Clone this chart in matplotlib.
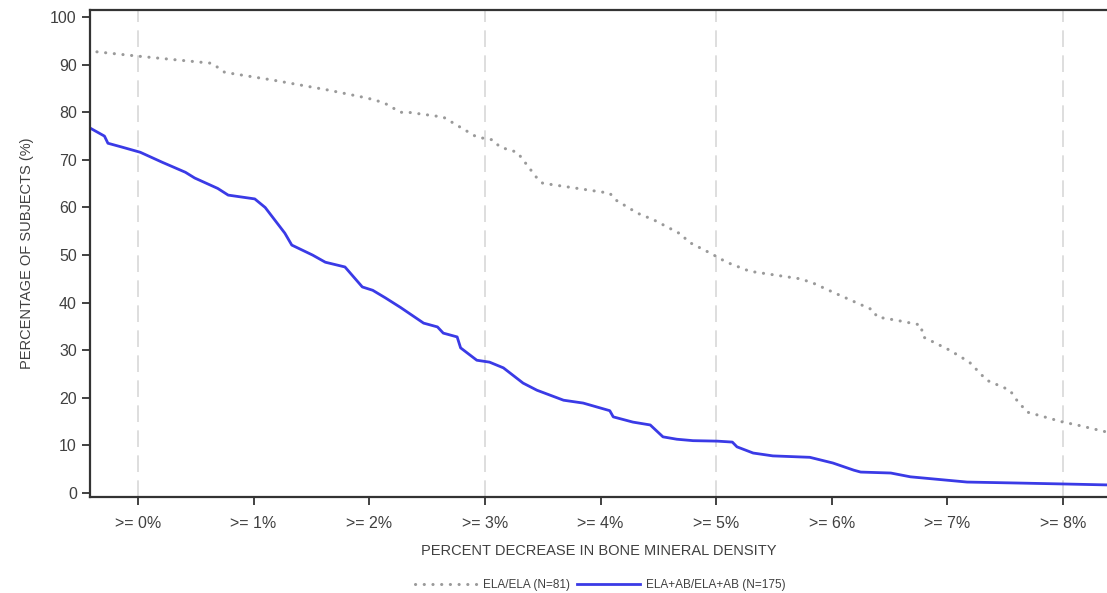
import matplotlib
matplotlib.use("Agg")
import matplotlib.pyplot as plt

# ELA+AB/ELA+AB (N=175) curve
blue_x = [-0.415, -0.29, -0.26, -0.14, 0.02, 0.21, 0.41, 0.49, 0.69, 0.78, 1.01, 1.10,
          1.27, 1.33, 1.51, 1.62, 1.79, 1.94, 2.03, 2.14, 2.27, 2.47, 2.59, 2.64, 2.76,
          2.79, 2.93, 3.04, 3.16, 3.33, 3.45, 3.68, 3.85, 4.08, 4.11, 4.28, 4.43, 4.54,
          4.66, 4.80, 5.01, 5.14, 5.18, 5.32, 5.49, 5.81, 6.01, 6.19, 6.25, 6.51, 6.68,
          7.17, 7.60, 8.00, 8.38]
blue_y = [76.7, 75.0, 73.5, 72.7, 71.6, 69.5, 67.4, 66.2, 64.0, 62.6, 61.8, 60.0,
          54.6, 52.1, 50.0, 48.5, 47.5, 43.3, 42.6, 41.0, 39.0, 35.7, 34.9, 33.6, 32.8,
          30.5, 27.9, 27.5, 26.3, 23.1, 21.6, 19.5, 18.9, 17.3, 16.0, 14.9, 14.3, 11.8,
          11.3, 11.0, 10.9, 10.7, 9.7, 8.4, 7.8, 7.5, 6.3, 4.8, 4.4, 4.2, 3.4,
          2.3, 2.1, 1.9, 1.7]

# ELA/ELA (N=81) curve
gray_x = [-0.43, 0.00, 0.64, 0.75, 1.16, 1.64, 1.94, 2.05, 2.15, 2.27, 2.34, 2.64, 2.93,
          3.07, 3.13, 3.28, 3.45, 3.50, 4.08, 4.13, 4.32, 4.46, 4.71, 4.75, 4.95, 5.09,
          5.29, 5.73, 5.84, 6.01, 6.36, 6.39, 6.56, 6.77, 6.79, 7.02, 7.19, 7.34, 7.54,
          7.60, 7.69, 8.00, 8.12, 8.38]
gray_y = [92.9, 91.8, 90.3, 88.4, 86.8, 84.7, 83.2, 82.6, 81.7, 80.0, 80.0, 79.0, 74.8,
          74.2, 72.7, 71.6, 66.2, 65.1, 63.0, 61.6, 58.8, 57.4, 54.2, 52.9, 50.4, 48.5,
          46.6, 45.0, 44.1, 42.2, 38.4, 37.0, 36.3, 35.3, 32.8, 30.0, 27.5, 23.7, 21.6,
          19.5, 17.0, 14.9, 14.3, 12.8]

x_ticks = [0, 1, 2, 3, 4, 5, 6, 7, 8]
x_tick_labels = [">= 0%", ">= 1%", ">= 2%", ">= 3%", ">= 4%", ">= 5%", ">= 6%", ">= 7%", ">= 8%"]
grid_x = [0, 3, 5, 8]
y_ticks = list(range(0, 101, 10))

plt.rcParams['font.family'] = ['Liberation Sans', 'DejaVu Sans']

fig = plt.figure(figsize=(11.07, 5.93), dpi=100)
ax = fig.add_axes([90/1107, 1-497/593, 1-90/1107, 487/593])

for gx in grid_x:
    ax.axvline(gx, color='#d8d8d8', lw=1.2, dashes=(10, 5), zorder=0)

l1, = ax.plot(gray_x, gray_y, color='#9a9a9a', lw=2.2, linestyle=(0, (0.05, 2.8)),
              dash_capstyle='round', label='ELA/ELA (N=81)')
l2, = ax.plot(blue_x, blue_y, color='#3a3ae6', lw=2.0, label='ELA+AB/ELA+AB (N=175)')

ax.set_xlim(-0.415, 8.38)
ax.set_ylim(-0.84, 101.5)
ax.set_xticks(x_ticks)
ax.set_xticklabels(x_tick_labels)
ax.set_yticks(y_ticks)
ax.tick_params(axis='both', direction='out', length=6, width=1.3, color='#333333',
               labelsize=11.5, labelcolor='#404040')
ax.tick_params(axis='x', pad=8)
for s in ['left', 'bottom', 'top']:
    ax.spines[s].set_linewidth(1.6)
    ax.spines[s].set_color('#333333')
ax.spines['right'].set_visible(False)

ax.set_xlabel('PERCENT DECREASE IN BONE MINERAL DENSITY', fontsize=10.5, color='#404040', labelpad=9)
ax.set_ylabel('PERCENTAGE OF SUBJECTS (%)', fontsize=10.5, color='#404040', labelpad=12)

leg = fig.legend(handles=[l1, l2], loc='center', bbox_to_anchor=(600/1107, 1-585/593),
                 ncol=2, frameon=False, fontsize=8.5, handlelength=5.3, columnspacing=0.6,
                 handletextpad=0.5)
for t in leg.get_texts():
    t.set_color('#404040')

fig.savefig('out.png', dpi=100)
